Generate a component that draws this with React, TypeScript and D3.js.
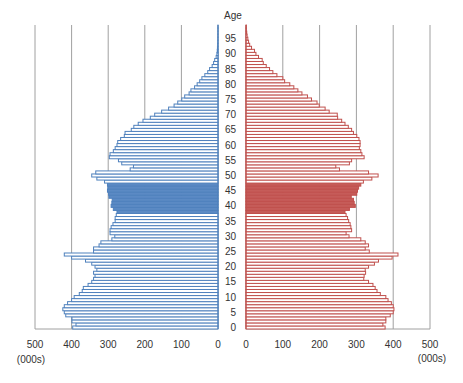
import React from "react";
import * as d3 from "d3";

const ages: number[] = d3.range(0, 100);

const male: number[] = [
  397, 388, 399, 399, 416, 420, 424, 420, 411, 400,
  393, 379, 371, 368, 355, 345, 340, 336, 340, 331,
  336, 345, 362, 400, 420, 340, 340, 325, 320, 290,
  282, 295, 295, 292, 287, 281, 281, 278, 276, 286,
  292, 290, 289, 298, 299, 302, 301, 302, 310, 331,
  345, 334, 240, 231, 263, 272, 297, 295, 286, 281,
  276, 274, 266, 256, 254, 237, 230, 218, 205, 185,
  173, 154, 135, 120, 110, 99, 91, 79, 74, 64,
  57, 50, 44, 36, 28, 23, 16, 12, 9, 5,
  3, 2, 1.5, 1, 0.7, 0.5, 0.3, 0.2, 0.1, 0.1,
];

const female: number[] = [
  378, 372, 380, 380, 392, 400, 402, 400, 395, 386,
  380, 365, 356, 351, 345, 333, 320, 321, 325, 324,
  333, 349, 360, 397, 413, 335, 324, 333, 324, 312,
  280, 272, 287, 285, 283, 279, 276, 272, 269, 281,
  297, 294, 292, 286, 301, 303, 306, 312, 319, 342,
  359, 333, 254, 244, 281, 287, 321, 315, 312, 308,
  310, 310, 307, 301, 292, 287, 278, 269, 260, 249,
  248, 226, 215, 199, 193, 178, 167, 152, 141, 130,
  119, 105, 100, 84, 73, 64, 55, 47, 44, 34,
  27, 23, 15, 10, 7, 5, 3, 2, 1, 1,
];

const highlightFrom = 38;
const highlightTo = 47;

const xTicks: number[] = [0, 100, 200, 300, 400, 500];
const ageTicks: number[] = d3.range(0, 100, 5);

const W = 463;
const H = 383;
const FONT = "'Liberation Sans', Arial, sans-serif";
const TEXT = "#333";
const GRID = "#a0a0a0";
const BLUE = "#4F81BD";
const RED = "#C0504D";
const BLUE_FILL = "#5B8AC4";
const RED_FILL = "#C65C59";

export default function App() {
  const y = d3
    .scaleBand<number>()
    .domain(ages)
    .range([329, 25])
    .padding(0);
  const xL = d3.scaleLinear().domain([0, 500]).range([218, 35]);
  const xR = d3.scaleLinear().domain([0, 500]).range([246, 430]);
  const bw = y.bandwidth();

  const isHi = (a: number) => a >= highlightFrom && a <= highlightTo;

  return (
    <svg
      width={W}
      height={H}
      style={{ position: "absolute", left: 0, top: 0, background: "#fff" }}
      fontFamily={FONT}
    >
      {/* grid lines */}
      {xTicks.map((t) => (
        <line key={"gl" + t} x1={xL(t)} x2={xL(t)} y1={25} y2={329} stroke={GRID} strokeWidth={1} />
      ))}
      {xTicks.map((t) => (
        <line key={"gr" + t} x1={xR(t)} x2={xR(t)} y1={25} y2={329} stroke={GRID} strokeWidth={1} />
      ))}
      {/* bottom axes */}
      <line x1={xL(500)} x2={xL(0)} y1={329} y2={329} stroke={GRID} />
      <line x1={xR(0)} x2={xR(500)} y1={329} y2={329} stroke={GRID} />

      {/* male bars */}
      {ages.map((a, i) => {
        const v = male[i];
        const y0 = y(a)!;
        return (
          <rect
            key={"m" + a}
            x={xL(v)}
            y={y0}
            width={xL(0) - xL(v)}
            height={bw}
            fill={isHi(a) ? BLUE_FILL : "#fff"}
            stroke={BLUE}
            strokeWidth={1}
          />
        );
      })}
      {/* female bars */}
      {ages.map((a, i) => {
        const v = female[i];
        const y0 = y(a)!;
        return (
          <rect
            key={"f" + a}
            x={xR(0)}
            y={y0}
            width={xR(v) - xR(0)}
            height={bw}
            fill={isHi(a) ? RED_FILL : "#fff"}
            stroke={RED}
            strokeWidth={1}
          />
        );
      })}

      {/* zero axes */}
      <line x1={xL(0)} x2={xL(0)} y1={25} y2={329} stroke={BLUE} strokeWidth={1} />
      <line x1={xR(0)} x2={xR(0)} y1={25} y2={329} stroke={RED} strokeWidth={1} />

      {/* age labels */}
      {ageTicks.map((a) => (
        <text
          key={"a" + a}
          x={236}
          y={y(a)! + bw / 2}
          dy="0.35em"
          textAnchor="end"
          fontSize={10}
          fill={TEXT}
        >
          {a}
        </text>
      ))}
      <text x={233} y={15} dy="0.35em" textAnchor="middle" fontSize={10} fill={TEXT}>
        Age
      </text>

      {/* x tick labels */}
      {xTicks.map((t) => (
        <text key={"tl" + t} x={xL(t)} y={348} textAnchor="middle" fontSize={10} fill={TEXT}>
          {t}
        </text>
      ))}
      {xTicks.map((t) => (
        <text key={"tr" + t} x={xR(t)} y={348} textAnchor="middle" fontSize={10} fill={TEXT}>
          {t}
        </text>
      ))}
      <text x={31} y={363} textAnchor="middle" fontSize={10} fill={TEXT}>
        (000s)
      </text>
      <text x={432} y={362} textAnchor="middle" fontSize={10} fill={TEXT}>
        (000s)
      </text>
    </svg>
  );
}
